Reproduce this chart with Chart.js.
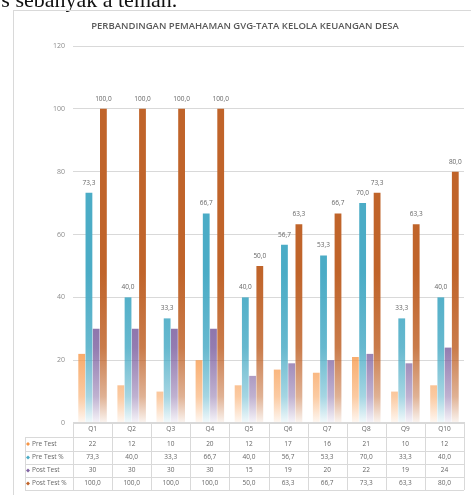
<!DOCTYPE html>
<html>
<head>
<meta charset="utf-8">
<script src="https://cdn.jsdelivr.net/npm/chart.js@4/dist/chart.umd.min.js"></script>
<style>
  html, body { margin: 0; padding: 0; background: #fff; }
  #wrap { width: 471px; height: 495px; }
</style>
</head>
<body>
<div id="wrap"><canvas id="chart" width="471" height="495"></canvas></div>
<script>
// data
const categories = ['Q1', 'Q2', 'Q3', 'Q4', 'Q5', 'Q6', 'Q7', 'Q8', 'Q9', 'Q10'];
const preTest = [22, 12, 10, 20, 12, 17, 16, 21, 10, 12];
const preTestPct = [73.3, 40.0, 33.3, 66.7, 40.0, 56.7, 53.3, 70.0, 33.3, 40.0];
const postTest = [30, 30, 30, 30, 15, 19, 20, 22, 19, 24];
const postTestPct = [100, 100, 100, 100, 50.0, 63.3, 66.7, 73.3, 63.3, 80.0];
const seriesNames = ['Pre Test', 'Pre Test %', 'Post Test', 'Post Test %'];
const yTicks = [0, 20, 40, 60, 80, 100, 120];

const chartTitle = 'PERBANDINGAN PEMAHAMAN GVG-TATA KELOLA KEUANGAN DESA';
const pageText = 'rs sebanyak a teman.';

const seriesColors = ['#f79646', '#4bacc6', '#8064a2', '#c0642a'];
const showLabels = [false, true, false, true];
const isPercent = [false, true, false, true];

const fmt = (v, pct) => pct ? v.toFixed(1).replace('.', ',') : String(v);

// vertical fade towards the axis, like the Excel gradient fill
const gradCache = {};
function barFill(ctx) {
  const chart = ctx.chart;
  const area = chart.chartArea;
  const i = ctx.datasetIndex;
  const col = seriesColors[i];
  if (!area) return col;
  const key = i + ':' + area.top + ':' + area.bottom;
  if (gradCache[key]) return gradCache[key];
  const g = chart.ctx.createLinearGradient(0, area.bottom, 0, area.top);
  g.addColorStop(0, col + '10');
  g.addColorStop(0.07, col + '80');
  g.addColorStop(0.2, col + 'd8');
  g.addColorStop(0.4, col);
  g.addColorStop(1, col);
  gradCache[key] = g;
  return g;
}

const pagePlugin = {
  id: 'page',
  beforeDraw(chart) {
    const c = chart.ctx;
    c.save();
    c.fillStyle = '#fff';
    c.fillRect(0, 0, chart.width, chart.height);
    // bit of document text cut off at the top
    c.fillStyle = '#111';
    c.font = '22px "Liberation Serif"';
    c.textBaseline = 'alphabetic';
    c.fillText(pageText, -6, 7);
    // chart frame
    c.strokeStyle = '#d9d9d9';
    c.lineWidth = 1;
    c.strokeRect(13.5, 10.5, 470, 500);
    // title
    c.fillStyle = '#595959';
    c.font = '600 9.5px "Open Sans"';
    c.textAlign = 'center';
    c.textBaseline = 'middle';
    c.fillText(chartTitle, 245, 26);
    c.restore();
  },
  afterDatasetsDraw(chart) {
    const c = chart.ctx;
    c.save();
    c.fillStyle = '#666';
    c.font = '6.5px "Open Sans"';
    c.textAlign = 'center';
    c.textBaseline = 'middle';
    chart.data.datasets.forEach((ds, i) => {
      if (!showLabels[i]) return;
      chart.getDatasetMeta(i).data.forEach((bar, j) => {
        c.fillText(fmt(ds.data[j], isPercent[i]), bar.x, bar.y - 10);
      });
    });
    c.restore();
  },
  afterDraw(chart) {
    // data table under the plot
    const c = chart.ctx;
    const x = chart.scales.x;
    const area = chart.chartArea;
    const colW = (area.right - area.left) / categories.length;
    const rowTop = [422, 437, 451, 464, 477, 490];
    const legendLeft = 25;
    c.save();
    c.strokeStyle = '#d9d9d9';
    c.lineWidth = 1;
    c.beginPath();
    c.moveTo(area.left, rowTop[0] + 0.5);
    c.lineTo(area.right, rowTop[0] + 0.5);
    for (let r = 1; r < rowTop.length; r++) {
      c.moveTo(legendLeft, rowTop[r] + 0.5);
      c.lineTo(area.right, rowTop[r] + 0.5);
    }
    for (let k = 0; k <= categories.length; k++) {
      const px = Math.round(area.left + k * colW) + 0.5;
      c.moveTo(px, rowTop[0]);
      c.lineTo(px, rowTop[rowTop.length - 1]);
    }
    c.moveTo(legendLeft + 0.5, rowTop[1]);
    c.lineTo(legendLeft + 0.5, rowTop[rowTop.length - 1]);
    c.stroke();

    c.fillStyle = '#666';
    c.font = '6.5px "Open Sans"';
    c.textBaseline = 'middle';
    c.textAlign = 'center';
    categories.forEach((q, j) => {
      c.fillText(q, x.getPixelForValue(j), (rowTop[0] + rowTop[1]) / 2);
    });
    chart.data.datasets.forEach((ds, i) => {
      const cy = (rowTop[i + 1] + rowTop[i + 2]) / 2;
      c.textAlign = 'center';
      c.fillStyle = '#666';
      ds.data.forEach((v, j) => {
        c.fillText(fmt(v, isPercent[i]), x.getPixelForValue(j), cy);
      });
      // legend key
      c.fillStyle = seriesColors[i];
      c.beginPath();
      c.moveTo(28, cy - 2);
      c.lineTo(30, cy);
      c.lineTo(28, cy + 2);
      c.lineTo(26, cy);
      c.closePath();
      c.fill();
      c.fillStyle = '#666';
      c.textAlign = 'left';
      c.fillText(seriesNames[i], 32, cy);
    });
    c.restore();
  }
};

const seriesData = [preTest, preTestPct, postTest, postTestPct];

new Chart(document.getElementById('chart'), {
  type: 'bar',
  data: {
    labels: categories,
    datasets: seriesData.map((d, i) => ({
      label: seriesNames[i],
      data: d,
      backgroundColor: barFill,
      borderWidth: 0,
      categoryPercentage: 0.74,
      barPercentage: 0.94
    }))
  },
  options: {
    responsive: false,
    animation: false,
    layout: { padding: { top: 46, left: 13, right: 7, bottom: 0 } },
    plugins: {
      legend: { display: false },
      title: { display: false },
      tooltip: { enabled: false }
    },
    scales: {
      x: {
        grid: { display: false },
        border: { display: false },
        ticks: { display: false },
        afterFit(scale) { scale.height = 72; }
      },
      y: {
        min: 0,
        max: 120,
        afterBuildTicks(scale) { scale.ticks = yTicks.map(v => ({ value: v })); },
        ticks: {
          color: '#8c8c8c',
          font: { family: 'Open Sans', size: 7 },
          padding: 8
        },
        grid: { color: '#d9d9d9', drawTicks: false },
        border: { display: false },
        afterFit(scale) { scale.width = 60; }
      }
    }
  },
  plugins: [pagePlugin]
});
</script>
</body>
</html>
